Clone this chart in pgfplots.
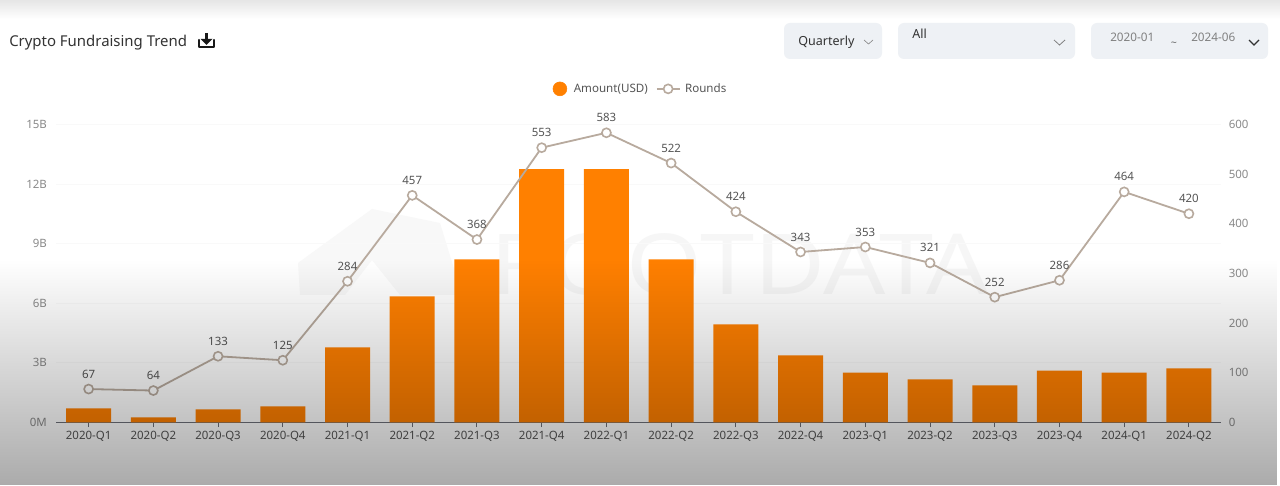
\documentclass[border=0pt]{standalone}
\usepackage{fontspec}
\setmainfont{Noto Sans}
\usepackage{graphicx}
\usepackage{pgfplots}
\usepackage{pgfplotstable}
\pgfplotsset{compat=1.18}
\usetikzlibrary{fadings,shapes.geometric}
\definecolor{barc}{HTML}{FF8000}
\definecolor{linec}{HTML}{B8AA9E}
\definecolor{axc}{HTML}{6E7079}
\definecolor{labc}{HTML}{8A8A8A}
\definecolor{txtc}{HTML}{555555}
\definecolor{boxc}{HTML}{EEF1F5}
\definecolor{wmc}{HTML}{F6F6F6}
\definecolor{wmd}{HTML}{F8F8F8}
\tikzfading[name=darken, top color=transparent!100, bottom color=transparent!67]
\pgfplotstableread{
x amount rounds
0 0.70 67
1 0.25 64
2 0.65 133
3 0.80 125
4 3.77 284
5 6.34 457
6 8.20 368
7 12.75 553
8 12.75 583
9 8.20 522
10 4.93 424
11 3.37 343
12 2.50 353
13 2.16 321
14 1.86 252
15 2.60 286
16 2.50 464
17 2.72 420
}\datatable
\pgfplotsset{common/.style={
  scale only axis, width=873.75pt, height=223.5pt,
  at={(42.2pt,47.0pt)}, anchor=south west,
  xmin=-0.5, xmax=17.5,
  xtick={0,...,17},
  /pgf/number format/assume math mode=true,
  tick label style={font=\fontsize{8.6pt}{10pt}\selectfont},
}}
\begin{document}
\begin{tikzpicture}[x=0.75pt,y=0.75pt]
\path[use as bounding box] (0,0) rectangle (1280,485);
\fill[white] (0,0) rectangle (1280,485);
% top strip
\shade[top color=black!10, bottom color=white] (0,466) rectangle (1280,485);
% watermark
\fill[wmd] (298,222) -- (372,276) -- (440,262) -- (462,190) -- (400,190) -- (372,225) -- (345,190) -- (300,190) -- cycle;
\node[wmc, anchor=base west, inner sep=0pt] at (490,190) {\scalebox{1.16}[1]{\fontsize{63pt}{63pt}\selectfont ROOTDATA}};
% title
\node[anchor=west, inner sep=0pt, text=black!80, font=\fontsize{11.2pt}{13pt}\selectfont] at (9,442) {Crypto Fundraising Trend};
% download icon
\draw[black!90, line width=1.6pt, line cap=round, line join=round] (199,445) -- (199,438) -- (214,438) -- (214,445);
\draw[black!90, line width=1.8pt] (206.5,452) -- (206.5,443);
\fill[black!90] (200.5,446) -- (212.5,446) -- (206.5,440) -- cycle;
% boxes
\fill[boxc, rounded corners=4.5] (784,426) rectangle (882,462);
\fill[boxc, rounded corners=4.5] (898,426) rectangle (1075,462);
\fill[boxc, rounded corners=4.5] (1091,426) rectangle (1268,462);
\node[anchor=west, inner sep=0pt, text=black!80, font=\fontsize{9.4pt}{11pt}\selectfont] at (798,442.5) {Quarterly};
\draw[black!45, line width=0.5pt] (864,445) -- (868.5,441) -- (873,445);
\node[anchor=west, inner sep=0pt, text=black!80, font=\fontsize{9.4pt}{11pt}\selectfont] at (912,451) {All};
\draw[black!50, line width=0.6pt] (1054,445) -- (1059.5,440) -- (1065,445);
\node[anchor=west, inner sep=0pt, text=black!50, font=\fontsize{8.8pt}{11pt}\selectfont] at (1110,448) {2020-01};
\node[anchor=center, inner sep=0pt, text=black!60, font=\fontsize{8pt}{10pt}\selectfont] at (1174,441) {\textasciitilde};
\node[anchor=west, inner sep=0pt, text=black!50, font=\fontsize{8.8pt}{11pt}\selectfont] at (1191,448) {2024-06};
\draw[black!80, line width=1pt] (1249,445) -- (1254,440) -- (1259,445);
% bars
\begin{axis}[common,
  axis y line=left, axis x line=bottom,
  axis line style={axc, line width=0.75pt, -},
  y axis line style={draw=none},
  ymin=0, ymax=15, ytick={0,3,6,9,12,15},
  yticklabels={0M,3B,6B,9B,12B,15B},
  xticklabels={2020-Q1,2020-Q2,2020-Q3,2020-Q4,2021-Q1,2021-Q2,2021-Q3,2021-Q4,2022-Q1,2022-Q2,2022-Q3,2022-Q4,2023-Q1,2023-Q2,2023-Q3,2023-Q4,2024-Q1,2024-Q2},
  ymajorgrids, grid style={black!2.5, line width=0.5pt},
  x tick style={axc, line width=0.75pt}, y tick style={draw=none},
  major tick length=3.5pt,
  tick align=outside,
  xtick pos=bottom,
  x tick label style={text=txtc, yshift=0.5pt},
  y tick label style={text=labc, xshift=0pt},
  axis on top=false,
]
\addplot[ybar, bar width=33.75pt, bar shift=0pt, fill=barc, draw=none] table[x=x,y=amount] {\datatable};
\end{axis}
% line
\begin{axis}[common,
  axis y line=right, axis x line=none,
  y axis line style={draw=none},
  ymin=0, ymax=600, ytick={0,100,...,600},
  y tick style={draw=none},
  y tick label style={text=labc},
  legend columns=2,
  legend cell align=left,
  legend style={draw=none, fill=none, at={(0.5018,1.119)}, anchor=center,
    font=\fontsize{8.7pt}{10pt}\selectfont, text=txtc,
    /tikz/every even column/.append style={column sep=4pt}},
]
\addlegendimage{legend image code/.code={\fill[barc] (0.15cm,0) circle (5.2pt);}}
\addlegendentry{\hspace{3pt}Amount(USD)}
\addplot[linec, line width=1.35pt, mark=*, mark size=3.4pt,
  mark options={fill=white, draw=linec, line width=1.2pt},
  nodes near coords, point meta=explicit symbolic,
  every node near coord/.append style={font=\fontsize{8.6pt}{10pt}\selectfont, text=txtc, anchor=south, yshift=6pt, inner sep=1.5pt},
] table[x=x,y=rounds,meta=rounds] {\datatable};
\addlegendentry{\hspace{1.5pt}Rounds}
\end{axis}
% overall darkening
\fill[black, path fading=darken] (0,0) rectangle (1280,225);
\end{tikzpicture}
\end{document}
